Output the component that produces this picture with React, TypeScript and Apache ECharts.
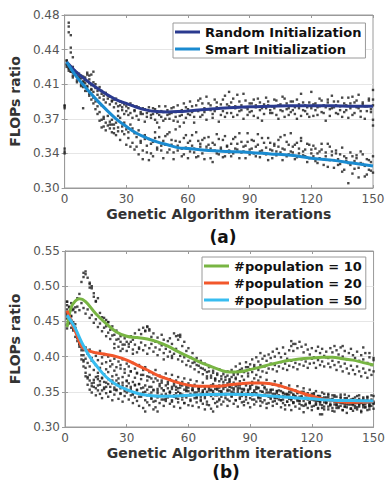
import React, { useEffect, useRef } from "react";
import * as echarts from "echarts";

// ---------- shared ----------
const iterations = Array.from({ length: 150 }, (_, i) => i + 1);

// ---------- (a) ----------
const randomLineIters = [1, 5, 10, 15, 20, 25, 30, 35, 40, 45, 50, 55, 60, 70, 80, 90, 100, 110, 120, 130, 140, 150];
const randomLine = [0.431, 0.422, 0.413, 0.405, 0.398, 0.392, 0.388, 0.384, 0.381, 0.3795, 0.3792, 0.3795, 0.3802, 0.382, 0.3835, 0.3845, 0.385, 0.3855, 0.3855, 0.3855, 0.385, 0.385];
const smartLineIters = [1, 5, 10, 15, 20, 25, 30, 35, 40, 45, 50, 55, 60, 70, 80, 90, 100, 110, 120, 130, 140, 150];
const smartLine = [0.431, 0.418, 0.405, 0.393, 0.382, 0.372, 0.364, 0.357, 0.352, 0.348, 0.345, 0.342, 0.341, 0.339, 0.338, 0.337, 0.3355, 0.334, 0.331, 0.329, 0.326, 0.323];

const randomRun1 = [
  0.428, 0.425, 0.424, 0.420, 0.422, 0.417, 0.419, 0.414, 0.416, 0.412,
  0.418, 0.409, 0.407, 0.410, 0.404, 0.401, 0.405, 0.398, 0.396, 0.399,
  0.393, 0.395, 0.390, 0.392, 0.388, 0.385, 0.390, 0.384, 0.387, 0.380,
  0.383, 0.378, 0.386, 0.381, 0.375, 0.384, 0.379, 0.377, 0.382, 0.374,
  0.380, 0.376, 0.383, 0.371, 0.378, 0.385, 0.374, 0.379, 0.372, 0.381,
  0.377, 0.383, 0.370, 0.379, 0.386, 0.375, 0.381, 0.368, 0.384, 0.377,
  0.390, 0.379, 0.374, 0.386, 0.380, 0.393, 0.376, 0.383, 0.371, 0.388,
  0.381, 0.377, 0.392, 0.384, 0.369, 0.387, 0.380, 0.396, 0.378, 0.385,
  0.389, 0.374, 0.383, 0.397, 0.380, 0.386, 0.372, 0.391, 0.382, 0.379,
  0.388, 0.375, 0.384, 0.393, 0.381, 0.370, 0.387, 0.383, 0.390, 0.378,
  0.385, 0.392, 0.376, 0.386, 0.381, 0.395, 0.374, 0.388, 0.383, 0.379,
  0.390, 0.384, 0.372, 0.387, 0.398, 0.381, 0.386, 0.377, 0.389, 0.383,
  0.375, 0.388, 0.384, 0.393, 0.379, 0.386, 0.370, 0.389, 0.382, 0.396,
  0.384, 0.378, 0.390, 0.385, 0.374, 0.388, 0.381, 0.394, 0.383, 0.376,
  0.389, 0.384, 0.397, 0.380, 0.387, 0.372, 0.385, 0.391, 0.379, 0.386,
];
const randomRun2 = [
  0.432, 0.427, 0.421, 0.426, 0.418, 0.420, 0.413, 0.417, 0.411, 0.415,
  0.406, 0.413, 0.402, 0.400, 0.408, 0.397, 0.394, 0.401, 0.392, 0.389,
  0.396, 0.387, 0.391, 0.384, 0.393, 0.380, 0.386, 0.389, 0.377, 0.385,
  0.376, 0.388, 0.373, 0.380, 0.385, 0.371, 0.377, 0.383, 0.369, 0.378,
  0.384, 0.373, 0.377, 0.382, 0.368, 0.376, 0.380, 0.370, 0.385, 0.376,
  0.372, 0.378, 0.384, 0.374, 0.369, 0.380, 0.376, 0.388, 0.373, 0.382,
  0.376, 0.385, 0.368, 0.381, 0.391, 0.374, 0.388, 0.379, 0.395, 0.382,
  0.386, 0.373, 0.380, 0.389, 0.383, 0.376, 0.392, 0.374, 0.387, 0.400,
  0.378, 0.393, 0.385, 0.376, 0.390, 0.381, 0.398, 0.384, 0.376, 0.388,
  0.380, 0.392, 0.386, 0.373, 0.389, 0.383, 0.377, 0.394, 0.386, 0.381,
  0.378, 0.383, 0.391, 0.372, 0.387, 0.380, 0.393, 0.382, 0.376, 0.390,
  0.381, 0.377, 0.392, 0.383, 0.375, 0.389, 0.380, 0.384, 0.374, 0.400,
  0.387, 0.381, 0.376, 0.385, 0.391, 0.378, 0.384, 0.392, 0.375, 0.383,
  0.390, 0.386, 0.377, 0.381, 0.394, 0.379, 0.386, 0.373, 0.388, 0.395,
  0.378, 0.391, 0.383, 0.374, 0.389, 0.385, 0.380, 0.393, 0.382, 0.371,
];
const smartRun1 = [
  0.429, 0.424, 0.421, 0.417, 0.419, 0.412, 0.414, 0.408, 0.405, 0.409,
  0.401, 0.398, 0.403, 0.394, 0.390, 0.385, 0.379, 0.386, 0.372, 0.368,
  0.375, 0.366, 0.371, 0.362, 0.368, 0.359, 0.373, 0.364, 0.356, 0.361,
  0.352, 0.366, 0.347, 0.357, 0.343, 0.360, 0.349, 0.339, 0.355, 0.344,
  0.351, 0.336, 0.348, 0.358, 0.342, 0.353, 0.339, 0.349, 0.345, 0.356,
  0.340, 0.350, 0.337, 0.361, 0.344, 0.348, 0.333, 0.352, 0.342, 0.347,
  0.338, 0.355, 0.341, 0.332, 0.349, 0.343, 0.336, 0.352, 0.340, 0.345,
  0.331, 0.347, 0.339, 0.356, 0.335, 0.342, 0.350, 0.333, 0.344, 0.339,
  0.346, 0.336, 0.353, 0.340, 0.331, 0.348, 0.338, 0.344, 0.357, 0.335,
  0.341, 0.349, 0.333, 0.345, 0.338, 0.352, 0.336, 0.342, 0.329, 0.347,
  0.339, 0.344, 0.334, 0.350, 0.337, 0.341, 0.355, 0.333, 0.345, 0.338,
  0.343, 0.330, 0.347, 0.336, 0.352, 0.334, 0.340, 0.327, 0.345, 0.336,
  0.333, 0.341, 0.326, 0.338, 0.346, 0.330, 0.337, 0.322, 0.343, 0.334,
  0.329, 0.339, 0.324, 0.335, 0.342, 0.319, 0.331, 0.326, 0.337, 0.315,
  0.328, 0.334, 0.321, 0.338, 0.325, 0.312, 0.330, 0.319, 0.327, 0.316,
];
const smartRun2 = [
  0.433, 0.422, 0.426, 0.415, 0.418, 0.410, 0.416, 0.406, 0.410, 0.401,
  0.405, 0.396, 0.392, 0.388, 0.382, 0.377, 0.370, 0.363, 0.374, 0.360,
  0.365, 0.369, 0.358, 0.366, 0.355, 0.363, 0.350, 0.359, 0.368, 0.345,
  0.358, 0.343, 0.362, 0.340, 0.353, 0.335, 0.347, 0.330, 0.351, 0.337,
  0.329, 0.346, 0.333, 0.352, 0.340, 0.363, 0.344, 0.331, 0.354, 0.337,
  0.358, 0.345, 0.330, 0.349, 0.339, 0.364, 0.341, 0.335, 0.355, 0.331,
  0.349, 0.344, 0.337, 0.358, 0.333, 0.346, 0.350, 0.330, 0.343, 0.353,
  0.341, 0.327, 0.345, 0.336, 0.351, 0.340, 0.332, 0.354, 0.343, 0.337,
  0.333, 0.351, 0.341, 0.346, 0.357, 0.337, 0.343, 0.331, 0.348, 0.340,
  0.350, 0.336, 0.343, 0.356, 0.332, 0.339, 0.347, 0.335, 0.352, 0.340,
  0.331, 0.346, 0.338, 0.343, 0.353, 0.329, 0.340, 0.348, 0.335, 0.357,
  0.337, 0.345, 0.332, 0.341, 0.349, 0.338, 0.333, 0.346, 0.331, 0.340,
  0.344, 0.328, 0.336, 0.331, 0.340, 0.324, 0.333, 0.346, 0.329, 0.338,
  0.321, 0.336, 0.330, 0.325, 0.317, 0.333, 0.328, 0.305, 0.324, 0.333,
  0.320, 0.331, 0.311, 0.326, 0.335, 0.323, 0.314, 0.329, 0.318, 0.333,
];
const topExtraX = [0, 0, 0, 0, 0, 0, 2, 2, 2, 3, 3, 3, 4, 1, 150, 150, 150, 9, 13, 14, 12, 11, 22, 24, 23, 26, 28, 18, 19];
const topExtraY = [0.383, 0.386, 0.385, 0.338, 0.341, 0.336, 0.472, 0.468, 0.462, 0.459, 0.446, 0.441, 0.436, 0.426, 0.365, 0.392, 0.402, 0.383, 0.418, 0.421, 0.417, 0.420, 0.362, 0.357, 0.366, 0.375, 0.381, 0.371, 0.364];

// ---------- (b) ----------
const pop10LineIters = [1, 2, 3, 5, 7, 10, 15, 20, 25, 30, 35, 40, 45, 50, 55, 60, 65, 70, 75, 80, 85, 90, 95, 100, 105, 110, 115, 120, 125, 130, 135, 140, 145, 150];
const pop10Line = [0.442, 0.458, 0.470, 0.479, 0.482, 0.478, 0.461, 0.447, 0.435, 0.429, 0.427, 0.425, 0.421, 0.415, 0.407, 0.400, 0.393, 0.387, 0.3815, 0.378, 0.3785, 0.3815, 0.385, 0.389, 0.3925, 0.395, 0.397, 0.398, 0.399, 0.399, 0.397, 0.395, 0.3915, 0.388];
const pop20LineIters = [1, 3, 5, 8, 10, 15, 20, 25, 30, 35, 40, 45, 50, 55, 60, 65, 70, 75, 80, 85, 90, 95, 100, 105, 110, 115, 120, 125, 130, 135, 140, 145, 150];
const pop20Line = [0.465, 0.450, 0.436, 0.415, 0.410, 0.4055, 0.403, 0.400, 0.395, 0.388, 0.381, 0.3735, 0.368, 0.363, 0.3595, 0.358, 0.358, 0.358, 0.360, 0.3615, 0.3625, 0.3625, 0.3615, 0.358, 0.3535, 0.3485, 0.344, 0.340, 0.3375, 0.3355, 0.335, 0.3355, 0.3365];
const pop50LineIters = [1, 3, 5, 8, 10, 12, 15, 20, 25, 30, 35, 40, 45, 50, 60, 70, 80, 90, 100, 110, 120, 130, 140, 150];
const pop50Line = [0.459, 0.450, 0.440, 0.421, 0.410, 0.400, 0.388, 0.371, 0.360, 0.353, 0.348, 0.345, 0.3438, 0.3436, 0.345, 0.346, 0.3465, 0.346, 0.344, 0.342, 0.340, 0.338, 0.3375, 0.337];

const pop10Run1 = [
  0.478, 0.471, 0.476, 0.466, 0.470, 0.483, 0.489, 0.506, 0.513, 0.521,
  0.512, 0.505, 0.497, 0.490, 0.479, 0.483, 0.462, 0.456, 0.455, 0.443,
  0.449, 0.438, 0.443, 0.431, 0.437, 0.425, 0.429, 0.417, 0.426, 0.421,
  0.418, 0.429, 0.424, 0.433, 0.427, 0.438, 0.432, 0.441, 0.436, 0.443,
  0.437, 0.428, 0.433, 0.421, 0.427, 0.419, 0.431, 0.424, 0.416, 0.422,
  0.426, 0.418, 0.433, 0.429, 0.424, 0.431, 0.415, 0.421, 0.408, 0.412,
  0.399, 0.405, 0.392, 0.398, 0.387, 0.394, 0.383, 0.390, 0.378, 0.385,
  0.373, 0.380, 0.369, 0.376, 0.382, 0.368, 0.375, 0.371, 0.379, 0.366,
  0.381, 0.374, 0.386, 0.379, 0.390, 0.383, 0.378, 0.392, 0.385, 0.389,
  0.396, 0.388, 0.399, 0.393, 0.405, 0.397, 0.401, 0.394, 0.403, 0.398,
  0.407, 0.400, 0.411, 0.405, 0.399, 0.413, 0.404, 0.397, 0.409, 0.415,
  0.408, 0.418, 0.412, 0.421, 0.414, 0.406, 0.417, 0.410, 0.403, 0.412,
  0.399, 0.408, 0.414, 0.405, 0.411, 0.401, 0.407, 0.398, 0.412, 0.406,
  0.415, 0.409, 0.403, 0.413, 0.400, 0.408, 0.396, 0.405, 0.411, 0.402,
  0.398, 0.407, 0.394, 0.402, 0.396, 0.405, 0.391, 0.399, 0.388, 0.395,
];
const pop10Run2 = [
  0.445, 0.455, 0.458, 0.468, 0.463, 0.471, 0.466, 0.476, 0.469, 0.461,
  0.467, 0.455, 0.459, 0.448, 0.453, 0.442, 0.447, 0.436, 0.441, 0.429,
  0.434, 0.425, 0.430, 0.418, 0.424, 0.414, 0.421, 0.411, 0.417, 0.408,
  0.414, 0.421, 0.410, 0.417, 0.406, 0.413, 0.420, 0.409, 0.416, 0.404,
  0.412, 0.418, 0.407, 0.413, 0.402, 0.410, 0.416, 0.405, 0.411, 0.400,
  0.407, 0.398, 0.404, 0.411, 0.396, 0.401, 0.393, 0.399, 0.388, 0.394,
  0.386, 0.391, 0.382, 0.388, 0.378, 0.384, 0.375, 0.381, 0.372, 0.379,
  0.370, 0.377, 0.368, 0.374, 0.365, 0.372, 0.379, 0.367, 0.373, 0.364,
  0.371, 0.377, 0.368, 0.375, 0.381, 0.372, 0.379, 0.385, 0.376, 0.382,
  0.378, 0.385, 0.374, 0.381, 0.388, 0.379, 0.386, 0.377, 0.383, 0.390,
  0.382, 0.388, 0.379, 0.386, 0.392, 0.383, 0.390, 0.381, 0.387, 0.394,
  0.385, 0.391, 0.382, 0.389, 0.396, 0.387, 0.393, 0.384, 0.390, 0.397,
  0.391, 0.384, 0.395, 0.388, 0.393, 0.386, 0.399, 0.390, 0.385, 0.394,
  0.388, 0.381, 0.392, 0.386, 0.379, 0.390, 0.383, 0.376, 0.387, 0.381,
  0.375, 0.386, 0.379, 0.372, 0.383, 0.377, 0.370, 0.381, 0.374, 0.379,
];
const pop20Run1 = [
  0.467, 0.461, 0.452, 0.449, 0.438, 0.432, 0.420, 0.419, 0.409, 0.413,
  0.404, 0.410, 0.398, 0.406, 0.401, 0.395, 0.408, 0.399, 0.403, 0.392,
  0.400, 0.394, 0.389, 0.397, 0.385, 0.393, 0.388, 0.396, 0.382, 0.390,
  0.386, 0.379, 0.391, 0.383, 0.377, 0.388, 0.374, 0.381, 0.385, 0.372,
  0.378, 0.369, 0.375, 0.381, 0.366, 0.373, 0.363, 0.370, 0.376, 0.361,
  0.368, 0.374, 0.359, 0.366, 0.371, 0.356, 0.364, 0.369, 0.355, 0.362,
  0.367, 0.353, 0.360, 0.365, 0.351, 0.358, 0.363, 0.354, 0.369, 0.357,
  0.352, 0.361, 0.366, 0.355, 0.359, 0.350, 0.364, 0.357, 0.362, 0.368,
  0.356, 0.363, 0.370, 0.359, 0.365, 0.354, 0.367, 0.361, 0.372, 0.358,
  0.364, 0.369, 0.357, 0.366, 0.371, 0.360, 0.355, 0.367, 0.362, 0.353,
  0.360, 0.365, 0.351, 0.358, 0.362, 0.349, 0.356, 0.347, 0.359, 0.353,
  0.346, 0.352, 0.358, 0.343, 0.350, 0.355, 0.341, 0.348, 0.353, 0.339,
  0.346, 0.351, 0.337, 0.344, 0.349, 0.335, 0.342, 0.347, 0.333, 0.340,
  0.345, 0.331, 0.338, 0.343, 0.334, 0.329, 0.341, 0.336, 0.332, 0.339,
  0.334, 0.328, 0.340, 0.335, 0.331, 0.337, 0.342, 0.330, 0.336, 0.333,
];
const pop20Run2 = [
  0.461, 0.455, 0.448, 0.442, 0.440, 0.427, 0.418, 0.413, 0.402, 0.397,
  0.391, 0.386, 0.394, 0.381, 0.388, 0.377, 0.384, 0.390, 0.375, 0.382,
  0.378, 0.386, 0.372, 0.380, 0.374, 0.369, 0.383, 0.371, 0.377, 0.366,
  0.373, 0.379, 0.364, 0.370, 0.376, 0.361, 0.368, 0.374, 0.359, 0.366,
  0.371, 0.357, 0.364, 0.369, 0.354, 0.361, 0.366, 0.352, 0.359, 0.364,
  0.350, 0.357, 0.362, 0.348, 0.355, 0.360, 0.346, 0.353, 0.358, 0.351,
  0.345, 0.356, 0.349, 0.343, 0.354, 0.347, 0.352, 0.341, 0.350, 0.355,
  0.344, 0.351, 0.346, 0.353, 0.340, 0.348, 0.354, 0.345, 0.351, 0.357,
  0.347, 0.353, 0.358, 0.349, 0.355, 0.344, 0.352, 0.359, 0.348, 0.354,
  0.360, 0.350, 0.346, 0.356, 0.351, 0.345, 0.357, 0.349, 0.343, 0.352,
  0.347, 0.341, 0.351, 0.344, 0.338, 0.348, 0.343, 0.336, 0.346, 0.340,
  0.335, 0.344, 0.339, 0.333, 0.342, 0.337, 0.331, 0.340, 0.334, 0.329,
  0.338, 0.332, 0.327, 0.336, 0.331, 0.325, 0.334, 0.329, 0.337, 0.323,
  0.332, 0.327, 0.335, 0.330, 0.324, 0.333, 0.328, 0.336, 0.326, 0.331,
  0.327, 0.334, 0.329, 0.323, 0.332, 0.328, 0.335, 0.325, 0.330, 0.334,
];
const pop50Run1 = [
  0.458, 0.449, 0.451, 0.437, 0.441, 0.426, 0.417, 0.409, 0.393, 0.384,
  0.371, 0.366, 0.358, 0.363, 0.355, 0.368, 0.360, 0.352, 0.364, 0.357,
  0.361, 0.350, 0.366, 0.356, 0.353, 0.362, 0.348, 0.359, 0.354, 0.365,
  0.351, 0.357, 0.346, 0.360, 0.352, 0.343, 0.355, 0.349, 0.338, 0.353,
  0.346, 0.341, 0.352, 0.337, 0.348, 0.344, 0.355, 0.339, 0.347, 0.342,
  0.350, 0.336, 0.345, 0.353, 0.340, 0.348, 0.343, 0.334, 0.351, 0.345,
  0.339, 0.352, 0.346, 0.341, 0.355, 0.337, 0.349, 0.344, 0.332, 0.347,
  0.353, 0.340, 0.345, 0.336, 0.351, 0.343, 0.357, 0.346, 0.339, 0.352,
  0.344, 0.349, 0.338, 0.355, 0.342, 0.350, 0.336, 0.347, 0.353, 0.341,
  0.348, 0.339, 0.354, 0.343, 0.337, 0.350, 0.345, 0.333, 0.349, 0.342,
  0.336, 0.347, 0.341, 0.352, 0.338, 0.344, 0.331, 0.346, 0.340, 0.349,
  0.335, 0.343, 0.348, 0.337, 0.342, 0.330, 0.345, 0.339, 0.334, 0.347,
  0.340, 0.332, 0.344, 0.338, 0.327, 0.342, 0.336, 0.345, 0.331, 0.339,
  0.343, 0.334, 0.329, 0.341, 0.337, 0.346, 0.332, 0.338, 0.326, 0.340,
  0.335, 0.344, 0.331, 0.337, 0.342, 0.328, 0.339, 0.333, 0.345, 0.336,
];
const pop50Run2 = [
  0.463, 0.452, 0.457, 0.444, 0.446, 0.431, 0.424, 0.402, 0.395, 0.377,
  0.369, 0.374, 0.362, 0.367, 0.371, 0.359, 0.365, 0.370, 0.356, 0.363,
  0.368, 0.357, 0.362, 0.353, 0.366, 0.360, 0.355, 0.363, 0.351, 0.358,
  0.362, 0.354, 0.348, 0.359, 0.353, 0.361, 0.347, 0.356, 0.350, 0.345,
  0.357, 0.349, 0.353, 0.344, 0.351, 0.358, 0.346, 0.352, 0.340, 0.355,
  0.348, 0.354, 0.343, 0.357, 0.350, 0.346, 0.359, 0.344, 0.352, 0.356,
  0.347, 0.353, 0.358, 0.349, 0.355, 0.343, 0.350, 0.357, 0.346, 0.352,
  0.359, 0.348, 0.354, 0.345, 0.356, 0.351, 0.360, 0.347, 0.353, 0.358,
  0.350, 0.355, 0.346, 0.352, 0.359, 0.348, 0.354, 0.343, 0.351, 0.356,
  0.345, 0.352, 0.348, 0.355, 0.341, 0.350, 0.346, 0.353, 0.344, 0.349,
  0.353, 0.342, 0.348, 0.345, 0.351, 0.339, 0.347, 0.343, 0.350, 0.338,
  0.346, 0.341, 0.349, 0.337, 0.344, 0.350, 0.340, 0.345, 0.336, 0.343,
  0.348, 0.338, 0.344, 0.335, 0.341, 0.347, 0.337, 0.342, 0.339, 0.345,
  0.336, 0.343, 0.338, 0.346, 0.334, 0.341, 0.337, 0.344, 0.339, 0.333,
  0.342, 0.338, 0.345, 0.334, 0.340, 0.336, 0.343, 0.331, 0.339, 0.344,
];
const pop50Run3 = [
  0.454, 0.447, 0.441, 0.439, 0.428, 0.422, 0.414, 0.396, 0.386, 0.372,
  0.360, 0.353, 0.349, 0.357, 0.345, 0.352, 0.347, 0.341, 0.354, 0.348,
  0.343, 0.350, 0.338, 0.346, 0.352, 0.340, 0.347, 0.336, 0.344, 0.349,
  0.339, 0.345, 0.334, 0.342, 0.337, 0.330, 0.343, 0.327, 0.322, 0.335,
  0.331, 0.340, 0.336, 0.328, 0.342, 0.334, 0.339, 0.330, 0.337, 0.344,
  0.333, 0.338, 0.329, 0.341, 0.335, 0.327, 0.339, 0.334, 0.342, 0.331,
  0.337, 0.330, 0.341, 0.335, 0.328, 0.339, 0.333, 0.325, 0.336, 0.331,
  0.326, 0.322, 0.334, 0.329, 0.338, 0.332, 0.336, 0.341, 0.330, 0.337,
  0.343, 0.333, 0.338, 0.329, 0.340, 0.335, 0.331, 0.339, 0.334, 0.328,
  0.339, 0.332, 0.336, 0.341, 0.330, 0.335, 0.338, 0.327, 0.334, 0.340,
  0.330, 0.337, 0.333, 0.339, 0.328, 0.334, 0.325, 0.336, 0.331, 0.324,
  0.334, 0.329, 0.337, 0.326, 0.331, 0.321, 0.333, 0.327, 0.335, 0.324,
  0.330, 0.335, 0.326, 0.332, 0.318, 0.329, 0.334, 0.325, 0.331, 0.327,
  0.322, 0.331, 0.327, 0.334, 0.324, 0.329, 0.320, 0.332, 0.326, 0.323,
  0.330, 0.325, 0.333, 0.321, 0.328, 0.332, 0.324, 0.329, 0.335, 0.326,
];
const bottomExtraX = [9, 10, 12, 13, 12, 14, 15, 20, 21, 1, 1, 2, 3, 1, 1, 41, 40, 39, 55, 56, 110, 111, 135, 145, 148, 150, 43, 45, 124, 16, 18, 24, 27, 33, 36, 48, 52];
const bottomExtraY = [0.519, 0.517, 0.503, 0.500, 0.498, 0.485, 0.478, 0.452, 0.449, 0.478, 0.473, 0.470, 0.466, 0.445, 0.440, 0.439, 0.442, 0.437, 0.430, 0.428, 0.422, 0.418, 0.415, 0.413, 0.405, 0.398, 0.325, 0.322, 0.318, 0.372, 0.369, 0.412, 0.408, 0.404, 0.411, 0.396, 0.401];

const FONT = "DejaVu Sans";

function pairs(xs: number[], ys: number[]) {
  return xs.map((x, i) => [x, ys[i]]);
}

export default function App() {
  const ref = useRef<HTMLDivElement>(null);
  useEffect(() => {
    if (!ref.current) return;
    const chart = echarts.init(ref.current, undefined, { renderer: "svg" });

    const axisColor = "#9a9a9a";
    const mkX = (gridIndex: number) => [
      {
        gridIndex,
        type: "value",
        min: 0,
        max: 150,
        interval: 30,
        axisLine: { show: true, lineStyle: { color: axisColor } },
        axisTick: { show: true, inside: true, length: 3, lineStyle: { color: axisColor } },
        axisLabel: { color: "#555", fontSize: 12, margin: 5, fontFamily: FONT },
        splitLine: { show: false },
        name: "Genetic Algorithm iterations",
        nameLocation: "middle",
        nameGap: 19,
        nameTextStyle: { fontWeight: "bold", fontSize: 14, color: "#333", fontFamily: FONT },
      },
      {
        gridIndex,
        type: "value",
        position: "top",
        min: 0,
        max: 150,
        interval: 30,
        axisLine: { show: true, lineStyle: { color: axisColor } },
        axisTick: { show: true, inside: true, length: 3, lineStyle: { color: axisColor } },
        axisLabel: { show: false },
        splitLine: { show: false },
      },
    ];
    const mkY = (gridIndex: number, min: number, max: number, interval: number) => [
      {
        gridIndex,
        type: "value",
        min,
        max,
        interval,
        axisLine: { show: true, lineStyle: { color: axisColor } },
        axisTick: { show: true, inside: true, length: 3, lineStyle: { color: axisColor } },
        axisLabel: { color: "#555", fontSize: 12, margin: 5, fontFamily: FONT, formatter: (v: number) => v.toFixed(2) },
        splitLine: { show: true, lineStyle: { color: "#e6e6e6" } },
        name: "FLOPs ratio",
        nameLocation: "middle",
        nameGap: 33,
        nameTextStyle: { fontWeight: "bold", fontSize: 14, color: "#333", fontFamily: FONT },
      },
      {
        gridIndex,
        type: "value",
        position: "right",
        min,
        max,
        interval,
        axisLine: { show: true, lineStyle: { color: axisColor } },
        axisTick: { show: true, inside: true, length: 3, lineStyle: { color: axisColor } },
        axisLabel: { show: false },
        splitLine: { show: false },
      },
    ];

    const dots = (xAxisIndex: number, yAxisIndex: number, data: number[][]) => ({
      type: "scatter",
      xAxisIndex,
      yAxisIndex,
      data,
      symbol: "rect",
      symbolSize: 2.4,
      itemStyle: { color: "#1a1a1a" },
      silent: true,
      z: 2,
    });
    const line = (name: string, color: string, xAxisIndex: number, yAxisIndex: number, data: number[][]) => ({
      type: "line",
      name,
      xAxisIndex,
      yAxisIndex,
      data,
      smooth: 0.4,
      showSymbol: false,
      lineStyle: { width: 3, color },
      itemStyle: { color },
      z: 5,
    });

    const legendCommon = {
      orient: "vertical",
      icon: "rect",
      itemWidth: 25,
      itemHeight: 3,
      itemGap: 3,
      backgroundColor: "#fff",
      borderColor: "#9a9a9a",
      borderWidth: 1,
      borderRadius: 0,
      padding: [2, 4, 2, 2],
      textStyle: { fontWeight: "bold", fontSize: 13, color: "#111", fontFamily: FONT, lineHeight: 14 },
    };

    const c = {
      random: "#2a3a8f",
      smart: "#1a8bd0",
      p10: "#78b543",
      p20: "#f2572b",
      p50: "#38bdf0",
    };

    chart.setOption({
      animation: false,
      backgroundColor: "#fff",
      textStyle: { fontFamily: FONT },
      grid: [
        { left: 63, top: 15, width: 310, height: 173, show: true, borderColor: axisColor, borderWidth: 1, backgroundColor: "#fff" },
        { left: 65, top: 251, width: 312, height: 176, show: true, borderColor: axisColor, borderWidth: 1, backgroundColor: "#fff" },
      ],
      xAxis: [...mkX(0), ...mkX(1)],
      yAxis: [...mkY(0, 0.3, 0.48, 0.036), ...mkY(1, 0.3, 0.55, 0.05)],
      legend: [
        { ...legendCommon, left: 173, top: 23, data: ["Random Initialization", "Smart Initialization"] },
        { ...legendCommon, left: 202, top: 257, data: ["#population = 10", "#population = 20", "#population = 50"] },
      ],
      title: [
        { text: "(a)", left: 218, top: 223, textAlign: "center", textStyle: { fontWeight: "bold", fontSize: 17, color: "#111", fontFamily: FONT } },
        { text: "(b)", left: 221, top: 458, textAlign: "center", textStyle: { fontWeight: "bold", fontSize: 17, color: "#111", fontFamily: FONT } },
      ],
      series: [
        dots(0, 0, pairs(iterations, randomRun1)),
        dots(0, 0, pairs(iterations, randomRun2)),
        dots(0, 0, pairs(iterations, smartRun1)),
        dots(0, 0, pairs(iterations, smartRun2)),
        dots(0, 0, pairs(topExtraX, topExtraY)),
        line("Random Initialization", c.random, 0, 0, pairs(randomLineIters, randomLine)),
        line("Smart Initialization", c.smart, 0, 0, pairs(smartLineIters, smartLine)),
        dots(2, 2, pairs(iterations, pop10Run1)),
        dots(2, 2, pairs(iterations, pop10Run2)),
        dots(2, 2, pairs(iterations, pop20Run1)),
        dots(2, 2, pairs(iterations, pop20Run2)),
        dots(2, 2, pairs(iterations, pop50Run1)),
        dots(2, 2, pairs(iterations, pop50Run2)),
        dots(2, 2, pairs(iterations, pop50Run3)),
        dots(2, 2, pairs(bottomExtraX, bottomExtraY)),
        line("#population = 10", c.p10, 2, 2, pairs(pop10LineIters, pop10Line)),
        line("#population = 20", c.p20, 2, 2, pairs(pop20LineIters, pop20Line)),
        line("#population = 50", c.p50, 2, 2, pairs(pop50LineIters, pop50Line)),
      ],
    });
    return () => chart.dispose();
  }, []);
  return <div ref={ref} style={{ position: "absolute", left: 0, top: 0, width: 388, height: 484 }} />;
}
